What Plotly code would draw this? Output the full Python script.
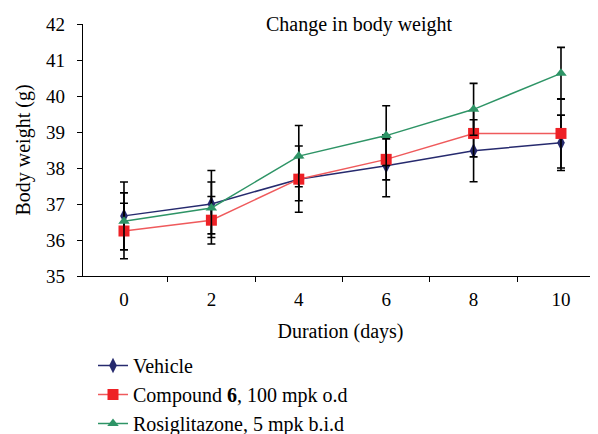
import plotly.graph_objects as go

days = [0, 2, 4, 6, 8, 10]
vehicle = [36.67, 37.00, 37.69, 38.06, 38.48, 38.70]
vehicle_err = [0.94, 0.93, 0.92, 0.86, 0.86, 0.77]
compound = [36.25, 36.55, 37.69, 38.24, 38.96, 38.96]
compound_err = [0.77, 0.66, 0.60, 0.57, 0.65, 0.96]
rosi = [36.52, 36.89, 38.33, 38.90, 39.63, 40.63]
rosi_err = [0.79, 0.72, 0.85, 0.83, 0.72, 0.72]

y_ticks = [35, 36, 37, 38, 39, 40, 41, 42]
x_ticks = [0, 2, 4, 6, 8, 10]
x_between = [1, 3, 5, 7, 9]

names = ["Vehicle", "Compound <b>6</b>, 100 mpk o.d", "Rosiglitazone, 5 mpk b.i.d"]

FONT = "Liberation Serif, Times New Roman, serif"

# page body has an 8px margin, so the figure is 8px smaller and shifted
W, H = 590, 426
L, T, B = 75, 16, 158
PW = W - L
PH = H - T - B

fig = go.Figure()

series = [
    (names[0], vehicle, vehicle_err, "#262a6e", "#262a6e", "diamond-tall", 11),
    (names[1], compound, compound_err, "#ef5a5c", "#ee2126", "square", 11),
    (names[2], rosi, rosi_err, "#2e9466", "#2e9466", "triangle-up", 10),
]
for i, (nm, ys, es, lc, mc, sym, sz) in enumerate(series):
    fig.add_trace(go.Scatter(
        x=days, y=ys, name=nm, mode="lines+markers",
        line=dict(color=lc, width=1.5),
        marker=dict(symbol=sym, size=sz, color=mc, line=dict(width=0)),
        error_y=dict(type="data", array=es, visible=True, color="black",
                     thickness=1.6, width=4),
        legendgroup=str(i),
    ))

fig.add_annotation(text="Change in body weight", xref="paper", yref="paper",
                   x=(351 - L) / PW, y=1.0, yanchor="middle", yshift=0,
                   showarrow=False,
                   font=dict(family=FONT, size=20, color="black"))

fig.update_layout(
    width=W, height=H,
    margin=dict(l=L, r=0, t=T, b=B, autoexpand=False),
    paper_bgcolor="white", plot_bgcolor="white",
    font=dict(family=FONT, size=20, color="black"),
    showlegend=True,
    legend=dict(x=10 / PW, y=-(338 - (T + PH)) / PH, xanchor="left", yanchor="top",
                orientation="v", tracegroupgap=0, maxheight=300,
                font=dict(family=FONT, size=20, color="black"),
                bgcolor="rgba(0,0,0,0)", itemwidth=30),
    xaxis=dict(range=[-0.938, 10.847], tickmode="array", tickvals=x_ticks,
               ticktext=[str(v) for v in x_ticks], ticks="", automargin=False,
               showline=True, linecolor="black", linewidth=1.2,
               showgrid=False, zeroline=False, ticklabelstandoff=6,
               minor=dict(tickmode="array", tickvals=x_between, ticks="outside",
                          ticklen=5, tickcolor="black", tickwidth=1.2, showgrid=False),
               title=dict(text="Duration (days)", standoff=15,
                          font=dict(family=FONT, size=20)),
               tickfont=dict(family=FONT, size=19)),
    yaxis=dict(range=[35, 42], tickmode="array", tickvals=y_ticks, automargin=False,
               ticks="outside", ticklen=5, tickcolor="black", tickwidth=1.2,
               showline=True, linecolor="black", linewidth=1.2,
               showgrid=False, zeroline=False, ticklabelstandoff=8,
               title=dict(text="Body weight (g)", standoff=10,
                          font=dict(family=FONT, size=20)),
               tickfont=dict(family=FONT, size=19)),
)

fig.write_html("out.html")
